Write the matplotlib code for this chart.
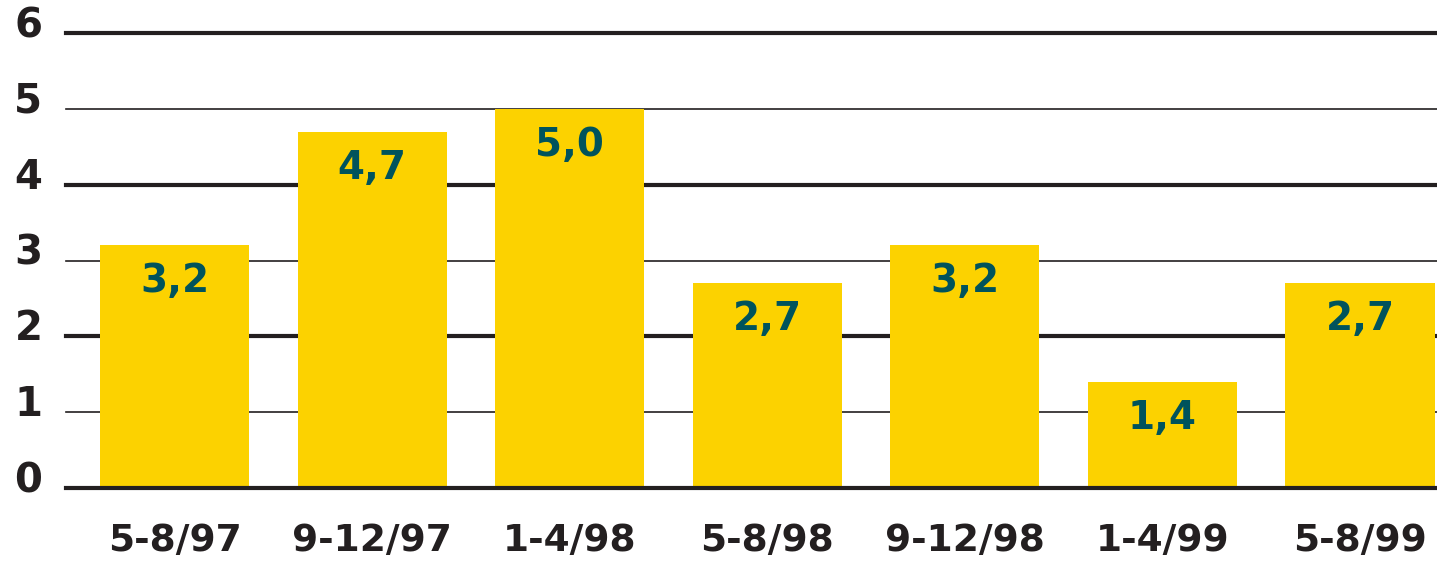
import matplotlib
matplotlib.use("Agg")
import matplotlib.pyplot as plt

# ── Data ──
periods = ["5-8/97", "9-12/97", "1-4/98", "5-8/98", "9-12/98", "1-4/99", "5-8/99"]
values = [3.2, 4.7, 5.0, 2.7, 3.2, 1.4, 2.7]
value_labels = ["3,2", "4,7", "5,0", "2,7", "3,2", "1,4", "2,7"]
y_ticks = [0, 1, 2, 3, 4, 5, 6]

BAR_COLOR = "#FCD200"
LABEL_COLOR = "#00535C"
LINE_COLOR = "#231F20"

plt.rcParams["font.family"] = "DejaVu Sans"
plt.rcParams["font.weight"] = "bold"

fig = plt.figure(figsize=(14.37, 5.63), dpi=100)
ax = fig.add_axes([66 / 1437, 75 / 563, 1 - 66 / 1437, 455 / 563])

x = list(range(len(periods)))
ax.bar(x, values, width=0.755, color=BAR_COLOR, zorder=2)

# ── Gridlines: thick on even numbers, thin on odd ──
for t in y_ticks:
    lw = 3.0 if t % 2 == 0 else 1.2
    z = 3 if t == 0 else 1
    ax.axhline(t, color=LINE_COLOR, lw=lw, zorder=z, clip_on=False)
    ax.annotate(str(t), xy=(0, t), xycoords=("axes fraction", "data"),
                xytext=(-17, 5), textcoords="offset points",
                ha="right", va="center", fontsize=29, fontweight="bold",
                color=LINE_COLOR, annotation_clip=False)

# ── Value labels inside the bars ──
for xi, v, lab in zip(x, values, value_labels):
    ax.annotate(lab, xy=(xi, v), xytext=(0, -26), textcoords="offset points",
                ha="center", va="center", fontsize=28, fontweight="bold",
                color=LABEL_COLOR, zorder=4)

# ── Category labels below ──
for xi, p in zip(x, periods):
    ax.annotate(p, xy=(xi, 0), xytext=(0, -38), textcoords="offset points",
                ha="center", va="center", fontsize=27, fontweight="bold",
                color=LINE_COLOR, annotation_clip=False)

ax.set_xlim(-0.55, 6.39)
ax.set_ylim(0, 6)
ax.set_xticks([])
ax.set_yticks([])
for s in ax.spines.values():
    s.set_visible(False)

fig.savefig("out.png", dpi=100)
